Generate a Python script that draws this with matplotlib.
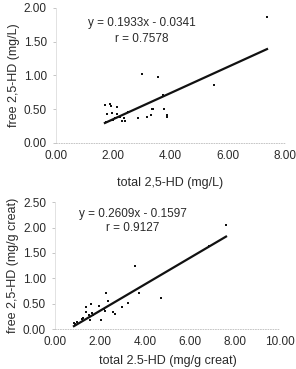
import numpy as np
import matplotlib
matplotlib.use('Agg')
import matplotlib.pyplot as plt
from matplotlib.ticker import FormatStrFormatter

plt.rcParams['font.family'] = ['Liberation Sans', 'DejaVu Sans']

# top panel: concentrations in mg/L
total_mgL = [7.37, 3.00, 3.58, 5.52, 3.73, 1.71, 1.89, 1.91, 2.14, 1.79, 1.95, 2.12, 2.06, 2.00,
             2.24, 2.38, 2.41, 2.30, 2.53, 2.88, 3.17, 3.32, 3.35, 3.40, 3.78, 3.87, 3.89, 1.75]
free_mgL = [1.86, 1.02, 0.97, 0.86, 0.71, 0.56, 0.57, 0.55, 0.53, 0.43, 0.44, 0.43, 0.37, 0.34,
            0.39, 0.37, 0.32, 0.32, 0.46, 0.37, 0.39, 0.41, 0.51, 0.50, 0.50, 0.41, 0.38, 0.31]
slope_mgL, icpt_mgL, r_mgL = 0.1933, -0.0341, 0.7578

# bottom panel: creatinine-corrected
total_creat = [7.60, 6.86, 3.56, 2.27, 3.75, 4.70, 2.34, 3.26, 2.98, 1.59, 1.97, 1.38, 1.36, 2.18,
               2.20, 2.59, 2.67, 1.63, 1.53, 1.70, 1.56, 2.04, 1.26, 1.20, 0.96, 0.84, 0.88]
free_creat = [2.05, 1.63, 1.24, 0.72, 0.72, 0.62, 0.55, 0.51, 0.44, 0.49, 0.46, 0.44, 0.34, 0.39,
              0.36, 0.33, 0.29, 0.31, 0.28, 0.27, 0.18, 0.19, 0.21, 0.20, 0.14, 0.13, 0.10]
slope_creat, icpt_creat, r_creat = 0.2609, -0.1597, 0.9127

TXT = '#2a2a2a'


def panel(ax, x, y, slope, icpt, r, xmax, ymax, xlab, ylab, eq_xy, xpad):
    ax.scatter(x, y, s=3.5, marker='s', color='#111111', linewidths=0, zorder=3)
    xs = np.array([min(x), max(x)])
    ax.plot(xs, slope * xs + icpt, color='#111111', lw=1.6, zorder=2)
    ax.set_xlim(0, xmax)
    ax.set_ylim(0, ymax)
    ax.set_xticks(np.arange(0, xmax + 0.01, 2))
    ax.set_yticks(np.arange(0, ymax + 0.01, 0.5))
    ax.xaxis.set_major_formatter(FormatStrFormatter('%.2f'))
    ax.yaxis.set_major_formatter(FormatStrFormatter('%.2f'))
    for s in ['top', 'right']:
        ax.spines[s].set_visible(False)
    ax.spines['left'].set_color('#dddddd')
    ax.spines['left'].set_linewidth(0.6)
    ax.spines['bottom'].set_color('#bbbbbb')
    ax.spines['bottom'].set_linestyle((0, (1, 2)))
    ax.spines['bottom'].set_linewidth(0.6)
    ax.tick_params(axis='x', length=0, pad=5, labelsize=8.5, labelcolor=TXT)
    ax.tick_params(axis='y', length=2.5, width=0.6, color='#bbbbbb', pad=4,
                   labelsize=8.5, labelcolor=TXT)
    ax.set_xlabel(xlab, fontsize=9, color=TXT, labelpad=xpad)
    ax.set_ylabel(ylab, fontsize=9, color=TXT, labelpad=3)
    ax.text(eq_xy[0], eq_xy[1], 'y = %.4fx - %.4f' % (slope, -icpt), transform=ax.transAxes,
            ha='center', va='center', fontsize=8.5, color=TXT)
    ax.text(eq_xy[0], eq_xy[1] - 0.115, 'r = %.4f' % r, transform=ax.transAxes,
            ha='center', va='center', fontsize=8.5, color=TXT)


fig = plt.figure(figsize=(2.96, 3.69), dpi=100)
ax1 = fig.add_axes([0.189, 0.6125, 0.774, 0.366])
ax2 = fig.add_axes([0.186, 0.108, 0.760, 0.344])

panel(ax1, total_mgL, free_mgL, slope_mgL, icpt_mgL, r_mgL, 8, 2,
      'total 2,5-HD (mg/L)', 'free 2,5-HD (mg/L)', (0.375, 0.885), 11)
panel(ax2, total_creat, free_creat, slope_creat, icpt_creat, r_creat, 10, 2.5,
      'total 2.5-HD (mg/g creat)', 'free 2,5-HD (mg/g creat)', (0.345, 0.91), 5)

fig.savefig('out.png', dpi=100)
